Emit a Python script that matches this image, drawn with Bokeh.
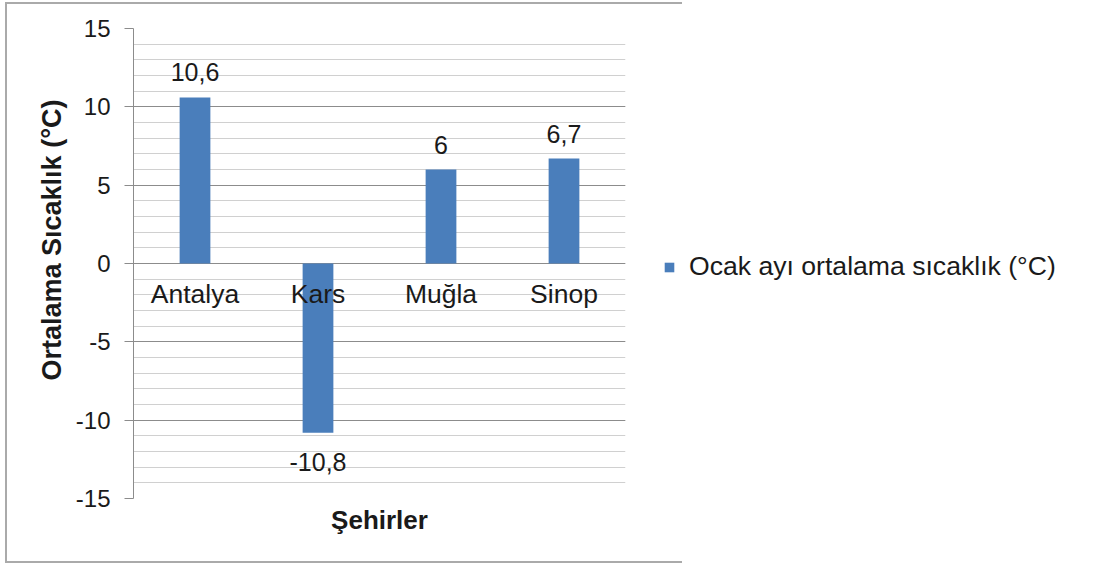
from bokeh.plotting import figure
from bokeh.layouts import row
from bokeh.models import (FactorRange, Range1d, SingleIntervalTicker, Legend, LegendItem,
                          ColumnDataSource, Title)
from bokeh.core.properties import value
from bokeh.embed import file_html
from bokeh.resources import INLINE

# ---- data ----
cities = ["Antalya", "Kars", "Muğla", "Sinop"]
temps = [10.6, -10.8, 6.0, 6.7]
temp_labels = ["10,6", "-10,8", "6", "6,7"]
y_ticks = [-15, -10, -5, 0, 5, 10, 15]
y_tick_labels = ["-15", "-10", "-5", "0", "5", "10", "15"]
series_name = "Ocak ayı ortalama sıcaklık (°C)"
y_title = "Ortalama Sıcaklık (°C)"
x_title = "Şehirler"

FONT = "Liberation Sans"
TEXT = "#1a1a1a"
BAR = "#4a7ebb"
MAJOR = "#8c8c8c"
MINOR = "#d0d0d0"
BORDER = "#aaaaaa"

p = figure(width=650, height=565,
           x_range=FactorRange(*cities), y_range=Range1d(-15, 15),
           output_backend="svg", toolbar_location=None,
           min_border_left=133, min_border_right=25,
           min_border_top=28, min_border_bottom=67)
p.outline_line_color = None
p.xgrid.visible = False
p.background_fill_color = "white"
p.border_fill_color = None

# y axis
p.yaxis.ticker = SingleIntervalTicker(interval=5, num_minor_ticks=5)
p.yaxis.major_label_overrides = {t: s for t, s in zip(y_ticks, y_tick_labels)}
p.yaxis.major_tick_out = 9
p.yaxis.major_tick_in = 0
p.yaxis.minor_tick_out = 0
p.yaxis.minor_tick_in = 0
p.yaxis.axis_line_color = MAJOR
p.yaxis.major_tick_line_color = MAJOR
p.yaxis.major_label_text_font = FONT
p.yaxis.major_label_text_font_size = "24px"
p.yaxis.major_label_text_color = TEXT
p.yaxis.major_label_standoff = 14

p.ygrid.grid_line_color = MAJOR
p.ygrid.minor_grid_line_color = MINOR

# y title as a left-panel title (shifted upward like the reference)
p.add_layout(Title(text=y_title, align="left", offset=118, standoff=12,
                   text_font=FONT, text_font_style="bold",
                   text_font_size="27px", text_color=TEXT), "left")

# x axis (title only)
p.xaxis.axis_line_color = None
p.xaxis.major_tick_line_color = None
p.xaxis.minor_tick_line_color = None
p.xaxis.major_label_text_color = None
p.xaxis.major_label_text_font_size = "1px"
p.xaxis.major_label_standoff = 0
p.xaxis.axis_label = x_title
p.xaxis.axis_label_text_font = FONT
p.xaxis.axis_label_text_font_style = "bold"
p.xaxis.axis_label_text_font_size = "26px"
p.xaxis.axis_label_text_color = TEXT
p.xaxis.axis_label_standoff = 0

# bars
src = ColumnDataSource(dict(city=cities, temp=temps, lab=temp_labels))
bars = p.vbar(x="city", top="temp", bottom=0, width=0.25, source=src,
              fill_color=BAR, line_color=None)

# data labels
pos = [i for i, t in enumerate(temps) if t >= 0]
neg = [i for i, t in enumerate(temps) if t < 0]
p.text(x=[cities[i] for i in pos], y=[temps[i] for i in pos],
       text=[temp_labels[i] for i in pos], text_align="center",
       text_baseline="alphabetic", y_offset=-25,
       text_font=value(FONT), text_font_size="25px", text_color=TEXT)
p.text(x=[cities[i] for i in neg], y=[temps[i] for i in neg],
       text=[temp_labels[i] for i in neg], text_align="center",
       text_baseline="alphabetic", y_offset=29,
       text_font=value(FONT), text_font_size="25px", text_color=TEXT)

# category labels just under the zero line
p.text(x=cities, y=[0] * len(cities), text=cities, text_align="center",
       text_baseline="alphabetic", y_offset=30,
       text_font=value(FONT), text_font_size="26.5px", text_color=TEXT)

# legend panel (separate canvas to the right of the chart)
lg = figure(width=470, height=565, x_range=FactorRange(*cities), y_range=(0, 1),
            output_backend="svg", toolbar_location=None,
            x_axis_location=None, y_axis_location=None, min_border=0)
lg.outline_line_color = None
lg.grid.visible = False
lg.background_fill_color = None
lg.border_fill_color = None
swatch = lg.vbar(x="city", top="temp", width=0.25, source=src,
                 fill_color=BAR, line_color=None, visible=False)
legend = Legend(items=[LegendItem(label=series_name, renderers=[swatch], index=0)],
                location=(13, 216), padding=0, margin=0, spacing=0,
                glyph_width=12, glyph_height=12, label_standoff=14,
                label_text_font=FONT, label_text_font_size="26.6px",
                label_text_color=TEXT, border_line_color=None,
                background_fill_alpha=0)
lg.add_layout(legend)

layout = row(p, lg, spacing=0)
# outer chart border (left, top, bottom) drawn as CSS background lines
g = f"linear-gradient({BORDER},{BORDER})"
layout.styles = {
    "background-color": "white",
    "background-image": f"{g},{g},{g}",
    "background-repeat": "no-repeat",
    "background-position": "5px 2px, 5px 561px, 5px 2px",
    "background-size": "677px 2px, 677px 2px, 2px 561px",
}

open("out.html", "w").write(file_html(layout, INLINE))
